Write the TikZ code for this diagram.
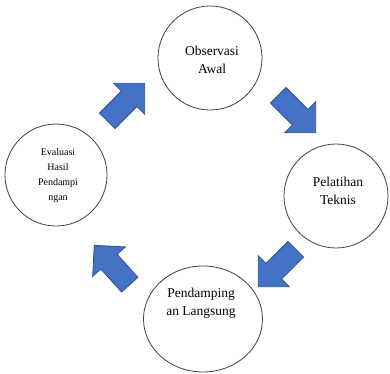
\documentclass[tikz,border=0pt]{standalone}
\usepackage{fontspec}
\setmainfont{Liberation Serif}
\usetikzlibrary{shapes.geometric}
\definecolor{arrfill}{HTML}{4472C4}
\definecolor{arrline}{HTML}{2F528F}
\definecolor{ringline}{HTML}{404040}
\tikzset{
  ring/.style={circle, draw=ringline, line width=0.8pt, inner sep=0pt},
  oval/.style={ellipse, draw=ringline, line width=0.8pt, inner sep=0pt},
  bigtext/.style={align=center, font=\fontsize{13.5}{18}\selectfont, inner sep=0pt},
  smalltext/.style={align=center, font=\fontsize{10}{15}\selectfont, inner sep=0pt},
  blockarrow/.style={fill=arrfill, draw=arrline, line width=0.8pt, line join=miter},
  pics/blockarr/.style={code={
    \path[blockarrow] (-26.5,-11) -- (4.5,-11) -- (4.5,-22) -- (26.5,0)
      -- (4.5,22) -- (4.5,11) -- (-26.5,11) -- cycle;
  }}
}
\begin{document}
\begin{tikzpicture}[x=1pt,y=-1pt]
\useasboundingbox (0,0) rectangle (390,373);
% circles
\node[ring, minimum size=104pt] (obs) at (210,58) {};
\node[ring, minimum size=104pt] (pel) at (336,196) {};
\node[oval, minimum width=119pt, minimum height=106pt] (pen) at (203,319) {};
\node[ring, minimum size=102pt] (eva) at (56,175) {};
% texts
\node[bigtext] (tobs) at (212,60) {Observasi\\Awal};
\node[bigtext] (tpel) at (338,191) {Pelatihan\\Teknis};
\node[bigtext] (tpen) at (201,303) {Pendamping\\an Langsung};
\node[smalltext] (teva) at (58,176) {Evaluasi\\Hasil\\Pendampi\\ngan};
% block arrows
\pic[rotate=45] (a1) at (126,102) {blockarr};
\pic[rotate=-45] (a2) at (297,114) {blockarr};
\pic[rotate=225] (a3) at (277,268) {blockarr};
\pic[rotate=132] (a4) at (112,265) {blockarr};
\end{tikzpicture}
\end{document}
